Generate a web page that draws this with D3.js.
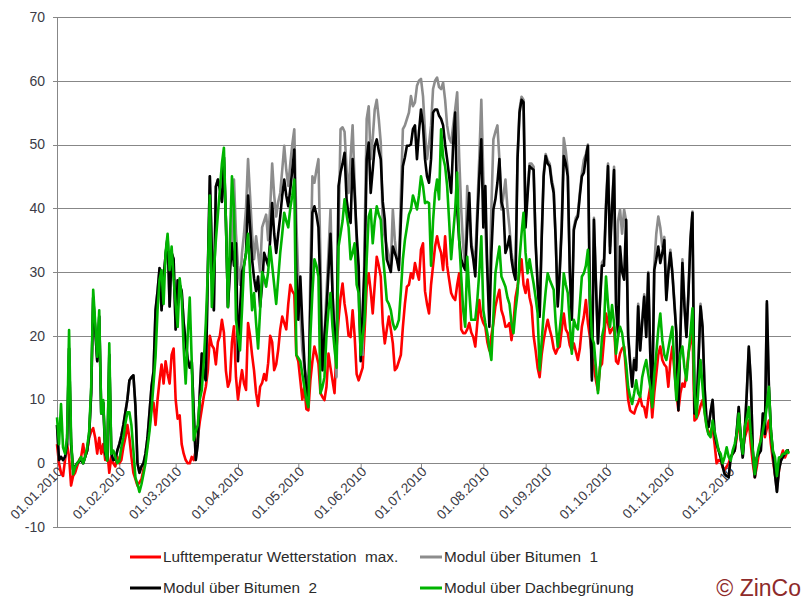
<!DOCTYPE html>
<html><head><meta charset="utf-8">
<script src="https://cdn.jsdelivr.net/npm/d3@7"></script>
<style>
body{margin:0;background:#fff}
svg{display:block}
text{font-family:"Liberation Sans",Arial,sans-serif}
</style>
</head><body>
<svg id="chart" width="807" height="600"></svg>
<script>
// ---- data (daily values 01.01.2010 - 31.12.2010) ----
const startDate = "01.01.2010";
const endDate = "31.12.2010";
const seriesNames = ["Lufttemperatur Wetterstation  max.", "Modul über Bitumen  1", "Modul über Bitumen  2", "Modul über Dachbegrünung"];
const yTickValues = [-10, 0, 10, 20, 30, 40, 50, 60, 70];
const monthTickLabels = ["01.01.2010","01.02.2010","01.03.2010","01.04.2010","01.05.2010","01.06.2010","01.07.2010","01.08.2010","01.09.2010","01.10.2010","01.11.2010","01.12.2010"];

const lufttemperatur = [
3,0,-1.5,-2,0.5,3,1,-3.5,-2,-1.5,
-0.5,0.5,1,3,1,2,4,5,5.5,4,
1.5,4,1.5,3,0.5,2,-1.5,1,0,-0.5,
1,0,0.5,2.5,4,6,4,1,-1.5,-2.5,
-3.5,-3,-2.5,-1,1,3,6,9,9.5,6,
10,13,15.5,12.5,16,14,12.5,17,18,10,
7,7.5,3,1.5,0.5,0,0,1,0.5,2,
4,6.5,8.5,10.5,12,14.5,20,18.5,18,15.5,
19,20,22.5,20.5,14.5,12,13,19,21.5,13.5,
10,12.5,14.6,12.5,11.5,22,20,17,14.5,11,
9,12,12.6,14,13,15.7,20,19,14.6,15.5,
17.8,21,23,22,21,25,28,27,26.5,17,
16,13,10,12,8.5,8.3,13,16,18.3,17,
15.6,11,10.4,9.9,12,17.2,15,13,11,18,
22.5,26,28.2,25,23,20,19.8,24,20,14,
13,14,15,21,27.7,29.8,27,23.5,28,32.4,
31,29.3,22,18.8,21,23,21,18.8,14.6,15,
16,17,21.4,25,27.7,28,29.8,29,31.4,30,
28.8,33.5,34.5,27,25,23.5,28,31,34,35.6,
34,33,30.3,35.6,31,28.8,26.7,26,25.6,28,
29.8,21,20.4,20.4,21,22,20.5,19.8,18.3,22,
25.6,23,22,21.4,19,17.7,20,22,24.6,26,
27.2,24,23,21.4,21.5,22,19.3,22,26,27.7,
30,32,28,26.7,28.8,26,24.6,20,17.7,15,
13.5,17,19.3,21,22.5,21,19.8,18,17.2,18,
18.3,21,23.5,21,20.4,18.5,17.7,18.8,17.5,16.2,
18,21.4,23,25.6,22,19.8,17,15.1,13,11.4,
15.1,15.6,19.3,23.5,22,20.4,21,21.4,16,15.6,
17.2,18,18.3,14,10,8.3,8,7.8,8.8,9.5,
10.4,9,8.8,7.2,10,12,7.2,11,14,17,
18.3,16.2,15.5,15.1,12,16,18.3,14.6,11,8.3,
11,12.5,12,14,17.2,19,21.4,6.7,7,7.8,
9,9.9,8.3,6,4.6,5,5.7,3,0,0.5,
0.4,-0.6,-1,-0.5,0,1,1.5,2,4,6.7,
4,2,4,5.1,6.7,3,0,-2.2,-0.5,1.5,
4,6.2,4.1,5.5,6.7,3,0.5,-1.7,-3.5,-1.2,
1,2,0.9,1.7,2
];

const bitumen1 = [
6,0.5,1,0.5,1,3,18,3,-1,-0.5,
0,0.3,0.5,0,1,2,4.5,11,26,21,
16,23,8,9.5,1.5,0.5,17,1.5,0.5,0.6,
2,3,4.3,6,8,10,13,13.5,13.8,9,
0,-1.5,-0.5,0,1.5,4,8,12,14.4,24,
27,30.6,24,29,32.7,35.5,24.6,33,32,21,
28.7,28,27,22,19,16.3,15,16,8,0.5,
3,11,17.2,14,13,30,45,34,24,43.4,
44.5,43,41,48,38,24.5,31,34.5,44.5,36,
31,28,33,36,40,47.7,42,36,32,35.6,
33,30,37,38,39,35,40,47,42,38.7,
41,42.4,46,49.8,46,43.5,47,50,52.4,38,
29,24,17.7,15,13.5,9.3,30,45,44,46,
47.7,32,14.6,20,26.7,33,39.8,26.7,20,13.5,
36,52.4,52.7,52,46,42.4,48,53,44,34.5,
26,18.8,17,36,54,56,47.7,51,55.5,57,
54,50.3,37,35.5,34,32.5,31,39.8,35,32,
31,42,52.4,53,54,55,57.6,56,56.6,59.2,
60,60.3,57.6,52,47.7,50,53,58.7,60,60.5,
59,58.7,59.7,57,53,51,50.3,53,55.5,58.2,
48,39.8,34,31,43.5,39,34.5,33,32,40,
48,57,45,37,30,26.7,40,50.8,52,53,
47.7,39.8,42,44.5,40,37,33,31,29.8,48,
55.5,57.5,57,38,43,47,47,46.5,35,28,
23,35.5,45.5,48.5,47.5,47,44.5,43,35,25,
30.5,38,51,49,46,30.5,23,37,38.5,39,
42.5,45.5,47.6,48.5,50,25.5,13.5,38.5,28.5,19,
25.5,31.5,32,41,47,34,40.5,46.5,25,38,
39.8,36,39.8,38,20.5,16,12.5,16.5,15,25,
18,22.5,26.5,20,30,17.5,10,31,36,38.7,
37,34,35.5,26,30.5,33.5,30,25.5,20.5,8.5,
20.5,32,25,20,27,35.5,39.5,8,8.5,16.5,
25,21.5,12,6.7,5.7,8,10,4.6,3,2,
0.9,-0.5,-1.7,-2,-2.2,0.9,1.5,2,5,8.8,
4,0.9,5,11,18,13,2,-2.2,0.9,1.5,
2,7.8,4.6,25,12,5.1,1.5,-1.7,-4.5,-1,
0.4,1,1.5,2,2
];

const bitumen2 = [
6,0.5,1,0.5,1,3,18,3,-1,-0.5,
0,0.3,0.5,0,1,2,4.5,11,26,21,
16,23,7.8,9.5,1.5,0.5,17,1.5,0.5,0.6,
2,3,4.3,6,8,10,13,13.5,13.8,9,
0,-1.5,-0.5,0,1.5,4,8,12,14.4,24,
27,30.6,24,29,32.7,35.5,24.6,33,32,21,
28.7,28,27,22,19,16.3,15,16,8,0.5,
3,11,17.2,14,13,30,45,33,24,43.4,
44.5,43,41,48,38,24.5,30,34.5,31,34.5,
16,24,30,31,33,42,37,32,29,27,
29.3,24.5,28,33,32,31,35,40.8,36,33,
36,38.7,42,44.5,42,40.3,43,46,49.2,30,
22.5,29.3,22,16,11,10,25,39.3,40.3,39,
37,26.7,14.6,20,24,30,36,26.7,20,17.7,
43.5,45.6,47,48.7,41.4,39,37.7,47.7,42.4,36,
31,16,24,31,47.7,50.3,42.4,46,49.8,50.8,
49,47.7,41,38.2,32,31,30,34,33,32,
30.3,38,46.6,48,49.8,49.8,50,52.4,53,47.7,
52,55.5,53,47.7,45,44,47.7,55,55.5,55.5,
54.5,54,53,50,47.7,45,42.4,50,55,39.8,
35,32,31,30.3,37,42.4,34,32,29.3,38,
45,50.8,37,43.5,30,21.4,33,39.8,41.4,44,
47.7,41,39.8,33,34,35.6,32,30,28.8,47.7,
55,57,56.6,37,42,46.6,46.3,46,34.5,28,
23,35,45,48.2,47,46.6,44,42.4,35,24.6,
30,37,48.2,47,45,30,22.5,36.6,38,38.7,
42,45,45.6,48,49.8,25,13,38.2,28,18.8,
25,31,31,40,46.6,33,40,46,24.6,20,
34,30,28.8,38.2,20,15.6,12,16.2,14.6,24.6,
17.7,22,26.1,19.8,29.8,17.2,9.9,30.3,32,34,
31.4,33,35,25.6,30,33,29.8,25,20.4,8.3,
20,31.4,24.6,19.8,26.7,35,39.3,7.8,8.3,16,
24.6,21.4,12,6.7,5.7,8,9.9,4.6,3,2,
0.9,-0.5,-1.7,-2,-2.2,0.9,1.5,2,5,8.8,
4,0.9,5,11,18.3,13,2,-2.2,0.9,1.5,
2,7.8,4.6,25.4,12,5.1,1.5,-1.7,-4.5,-1,
0.4,1,1.5,2,2
];

const dachbegruenung = [
7.2,3,9.3,2.5,1.5,4,20.9,4,-1.7,-0.6,
0,0.4,1,0,1,2.5,5,12,27.2,22,
16.7,24,7.8,9.9,2,0.4,18.8,1.5,2,1,
0,0.4,2.5,4,6.2,8,8,6,2,-2.2,
-3.3,-4.5,-3.3,-1.7,0,2.5,5,8.3,12.5,16.7,
24,28.8,30.3,25,33,36,30.3,34,28.8,25,
21.4,29,26,18,12.5,20,26,16,3.6,5,
6,10,11.5,16,22,30,42,24.5,30,35,
39,43,47,49.5,37.7,24.5,35,45,40,22.5,
20,17.7,24,31,33,36,30,24,26.7,22,
18,24,30,29,27.7,30,34,31,28,25,
29,33,36,39.3,38,37,40,42,44.5,17,
16.5,16,14,12,10,8.8,20,26.7,32,31,
29.3,11,12,13.5,20,24,26.7,21.4,18,15,
34,36,38,41.4,39,37,32,33,34.5,28,
26.7,17,20,22.5,32,38.7,39.8,34.5,38,40.3,
39,38.2,33,29.3,25.6,25,24,22,21,21.5,
22.5,27,32,35,37,39,39.8,42,41,39.8,
42,45,43.5,40.8,41,40.8,31,38,42.4,44.5,
41.4,52.4,48,46.6,43.5,38,32,36,39.8,45.6,
35,29.3,24,21.4,32.4,27,22.5,22.5,22.5,25.6,
30,35.6,24,22,20.4,18,16.2,23,29.8,32,
34,29.3,28.5,27.7,26,25,22,20.4,24,26.7,
32,36,39.3,33,29.8,32,30,28.2,26,23.5,
14.6,19,23.5,27,29.8,28.8,28,27.2,22,18.3,
21,24,29.8,28,26.7,22,17.2,22.5,21.5,21,
25,29.3,29.8,31,33.5,26,19.8,18.8,15,11,
15,19.8,21.4,29.3,25,21.4,24.8,22,17.2,20,
21.4,20.4,18,15.6,12,10.4,9.3,11,13,11,
10.4,13.5,15,16.2,14,12,8.8,14,17.2,21,
23.5,19.3,17,16.2,18,19.8,21.4,15,9.9,14,
17.2,18.3,15,13,17,20.4,24.3,10.9,7.2,12,
16.2,12,8,5.7,4.5,4.1,6.7,5,3.6,2,
1.5,0,1,2.5,1,0.4,2,3,4.6,7.8,
4,1.5,5.7,7,8.8,4.6,2,-1.7,0.9,2.5,
3.6,5.1,6.7,9,12,5.1,2,1,-2,0.9,
1,1.5,1.5,2,1.5
];

// ---- drawing ----
const seriesData = [lufttemperatur, bitumen1, bitumen2, dachbegruenung];
const seriesColors = ["#ff0000", "#8c8c8c", "#000000", "#00b400"];

const svg = d3.select("#chart");
const parse = d3.timeParse("%d.%m.%Y");
const fmt = d3.timeFormat("%d.%m.%Y");
const t0 = parse(startDate), t1 = parse(endDate);
const dayDate = i => d3.timeDay.offset(t0, i);

const plot = {left: 57, right: 789, top: 17, bottom: 527};
const x = d3.scaleTime().domain([t0, t1]).range([plot.left, plot.right]);
const y = d3.scaleLinear().domain([-10, 70]).range([plot.bottom, plot.top]);

const gridColor = "#878787";

// horizontal gridlines
svg.append("g").selectAll("line").data(yTickValues).join("line")
  .attr("x1", plot.left - 4).attr("x2", plot.right + 2)
  .attr("y1", d => Math.round(y(d)) + 0.5).attr("y2", d => Math.round(y(d)) + 0.5)
  .attr("stroke", gridColor).attr("stroke-width", 1);

// vertical axis line
svg.append("line")
  .attr("x1", plot.left + 0.5).attr("x2", plot.left + 0.5)
  .attr("y1", y(70)).attr("y2", y(-10))
  .attr("stroke", gridColor).attr("stroke-width", 1);

// y labels
svg.append("g").selectAll("text").data(yTickValues).join("text")
  .attr("x", 45).attr("y", d => y(d)).attr("dy", "0.35em")
  .attr("text-anchor", "end").attr("font-size", 14).attr("fill", "#3b3b46")
  .text(d => d);

// x axis at 0
const xAxis = d3.axisBottom(x)
  .tickValues(monthTickLabels.map(parse))
  .tickSize(5).tickFormat(fmt);
const gx = svg.append("g").attr("transform", `translate(0,${Math.round(y(0)) + 0.5})`).call(xAxis);
gx.select(".domain").remove();
gx.selectAll(".tick line").attr("stroke", gridColor);
gx.selectAll(".tick text")
  .attr("font-family", '"Liberation Sans",Arial,sans-serif')
  .attr("font-size", 13.5).attr("fill", "#3b3b46")
  .attr("text-anchor", "end")
  .attr("x", -2).attr("y", 6).attr("dy", "0.35em")
  .attr("transform", "rotate(-45)");

// lines
const line = d3.line().x((d, i) => x(dayDate(i))).y(d => y(d));
svg.append("g").selectAll("path").data(seriesData).join("path")
  .attr("d", d => line(d))
  .attr("fill", "none")
  .attr("stroke", (d, i) => seriesColors[i])
  .attr("stroke-width", 2.6)
  .attr("stroke-linejoin", "round");

// legend
const legendPos = [
  {lx: 130, lw: 31, ty: 557},
  {lx: 420, lw: 22, ty: 557},
  {lx: 130, lw: 31, ty: 588},
  {lx: 420, lw: 22, ty: 588}
];
const lg = svg.append("g");
seriesNames.forEach((name, i) => {
  const p = legendPos[i];
  lg.append("line").attr("x1", p.lx).attr("x2", p.lx + p.lw)
    .attr("y1", p.ty).attr("y2", p.ty)
    .attr("stroke", seriesColors[i]).attr("stroke-width", 3);
  lg.append("text").attr("x", p.lx + p.lw + 2).attr("y", p.ty).attr("dy", "0.35em")
    .attr("font-size", 15.3).attr("fill", "#2a2a2a")
    .style("white-space", "pre").attr("xml:space", "preserve")
    .text(name);
});

// copyright
svg.append("text").attr("x", 801).attr("y", 588).attr("dy", "0.35em")
  .attr("text-anchor", "end").attr("font-size", 23).attr("fill", "#8e2a2a")
  .text("© ZinCo");
</script>
</body></html>
